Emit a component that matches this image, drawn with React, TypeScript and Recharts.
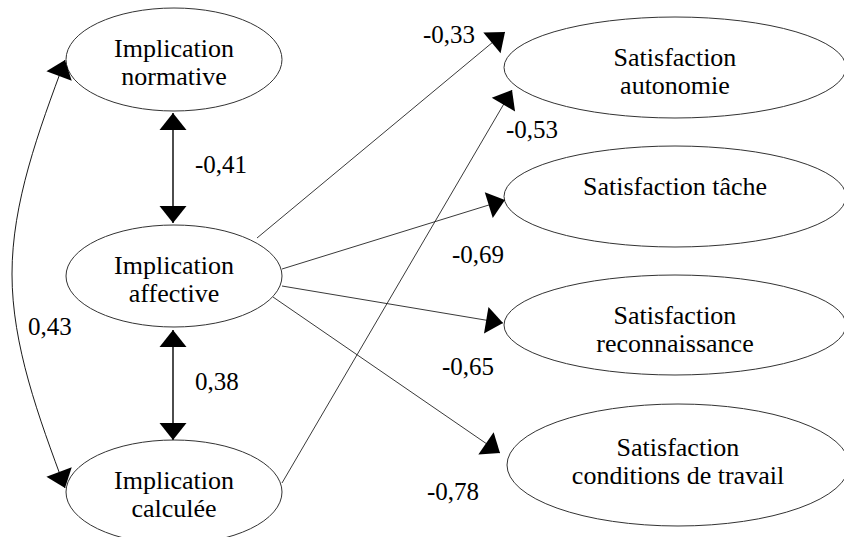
import React from "react";
import { ComposedChart, Line, Scatter, XAxis, YAxis } from "recharts";

const W = 844;
const H = 537;

// latent variables (ellipse centres, page pixels)
const nodeLabels = [
    ["Implication", "normative"],
    ["Implication", "affective"],
    ["Implication", "calculée"],
    ["Satisfaction", "autonomie"],
    ["Satisfaction tâche"],
    ["Satisfaction", "reconnaissance"],
    ["Satisfaction", "conditions de travail"],
];
const nodeX = [174, 174, 174, 675, 675, 675, 678];
const nodeY = [59.5, 276, 492, 67.5, 196.5, 325, 465];

// regression paths: Implication -> Satisfaction
const pathFrom = [[257, 238], [282, 483], [282, 269], [282, 286], [273, 297]];
const pathTo = [[505, 32], [512, 90], [505, 200], [503, 323], [500, 453]];
const pathCoef = ["-0,33", "-0,53", "-0,69", "-0,65", "-0,78"];
const pathLabelAt = [[423, 43], [506, 138], [452, 263], [442, 375], [427, 500]];

// correlations (double headed)
const corrPoints = [
    [[173, 113], [173, 223]],
    [[173, 330], [173, 440]],
    [[65, 60], [12, 274], [65, 488]],
];
const corrCoef = ["-0,41", "0,38", "0,43"];
const corrLabelAt = [[195, 173], [195, 390], [28, 335]];

// ellipse sizes
const nodeRx = [108, 108, 108, 171, 171, 171, 171];
const nodeRy = [51.5, 51, 52, 50.5, 50.5, 50, 61];

const FONT = "Liberation Serif";
const ARROW_LEN = 17;
const ARROW_HALF = 13.5;

type Pt = { x: number; y: number };
const toPts = (arr: number[][]): Pt[] => arr.map(([x, y]) => ({ x, y }));

const nodes = nodeLabels.map((lines, i) => ({
    x: nodeX[i], y: nodeY[i], lines, rx: nodeRx[i], ry: nodeRy[i],
}));
const labels = [
    ...pathCoef.map((t, i) => ({ x: pathLabelAt[i][0], y: pathLabelAt[i][1], text: t })),
    ...corrCoef.map((t, i) => ({ x: corrLabelAt[i][0], y: corrLabelAt[i][1], text: t })),
];

// tangent at an end of the line (straight or 3-point natural spline)
function endDir(pts: Pt[], atStart: boolean): Pt {
    if (pts.length === 2) {
        const dx = pts[1].x - pts[0].x;
        const dy = pts[1].y - pts[0].y;
        return atStart ? { x: -dx, y: -dy } : { x: dx, y: dy };
    }
    const [a, b, c] = pts;
    const kx = (a.x - 2 * b.x + c.x) / 4;
    const ky = (a.y - 2 * b.y + c.y) / 4;
    if (atStart) return { x: -(b.x - a.x - kx), y: -(b.y - a.y - ky) };
    return { x: c.x - b.x + kx, y: c.y - b.y + ky };
}

const Arrowhead = ({ cx, cy, dir }: { cx: number; cy: number; dir: Pt }) => {
    const len = Math.hypot(dir.x, dir.y) || 1;
    const ux = dir.x / len;
    const uy = dir.y / len;
    const bx = cx - ux * ARROW_LEN;
    const by = cy - uy * ARROW_LEN;
    const nx = -uy * ARROW_HALF;
    const ny = ux * ARROW_HALF;
    return (
        <path
            d={`M${cx},${cy}L${bx + nx},${by + ny}L${bx - nx},${by - ny}Z`}
            fill="#000"
            stroke="none"
        />
    );
};

const makeDot = (pts: Pt[], both: boolean) => (props: any) => {
    const { cx, cy, index } = props;
    if (index === pts.length - 1) {
        return <Arrowhead key={`end-${index}`} cx={cx} cy={cy} dir={endDir(pts, false)} />;
    }
    if (index === 0 && both) {
        return <Arrowhead key={`start-${index}`} cx={cx} cy={cy} dir={endDir(pts, true)} />;
    }
    return <g key={`none-${index}`} />;
};

const EllipseNode = (props: any) => {
    const { cx, cy, payload } = props;
    const { rx, ry, lines } = payload;
    const first = cy - 2 - 0.7 * (ry - 51);
    return (
        <g>
            <ellipse cx={cx} cy={cy} rx={rx} ry={ry} fill="#fff" stroke="#333" strokeWidth={1} />
            {lines.map((line: string, i: number) => (
                <text
                    key={line}
                    x={cx}
                    y={first + i * 28}
                    textAnchor="middle"
                    style={{ fontFamily: FONT, fontSize: 26 }}
                    fill="#000"
                >
                    {line}
                </text>
            ))}
        </g>
    );
};

const CoefLabel = (props: any) => {
    const { cx, cy, payload } = props;
    return (
        <text x={cx} y={cy} textAnchor="start" style={{ fontFamily: FONT, fontSize: 25 }} fill="#000">
            {payload.text}
        </text>
    );
};

export default function App() {
    return (
        <div style={{ position: "absolute", left: 0, top: 0, width: W, height: H, background: "#fff", fontFamily: FONT }}>
            <ComposedChart width={W} height={H} margin={{ top: 0, right: 0, bottom: 0, left: 0 }}>
                <XAxis type="number" dataKey="x" domain={[0, W]} allowDataOverflow hide />
                <YAxis type="number" dataKey="y" domain={[0, H]} allowDataOverflow reversed hide />

                <Scatter data={nodes} shape={EllipseNode} isAnimationActive={false} />

                {pathFrom.map((from, i) => {
                    const pts = toPts([from, pathTo[i]]);
                    return (
                        <Line
                            key={`path-${i}`}
                            data={pts}
                            dataKey="y"
                            type="linear"
                            stroke="#222"
                            strokeWidth={0.9}
                            dot={makeDot(pts, false)}
                            activeDot={false}
                            isAnimationActive={false}
                        />
                    );
                })}

                {corrPoints.map((arr, i) => {
                    const pts = toPts(arr);
                    return (
                        <Line
                            key={`corr-${i}`}
                            data={pts}
                            dataKey="y"
                            type={pts.length > 2 ? "natural" : "linear"}
                            stroke="#000"
                            strokeWidth={pts.length > 2 ? 0.9 : 1.4}
                            dot={makeDot(pts, true)}
                            activeDot={false}
                            isAnimationActive={false}
                        />
                    );
                })}

                <Scatter data={labels} shape={CoefLabel} isAnimationActive={false} />
            </ComposedChart>
        </div>
    );
}
